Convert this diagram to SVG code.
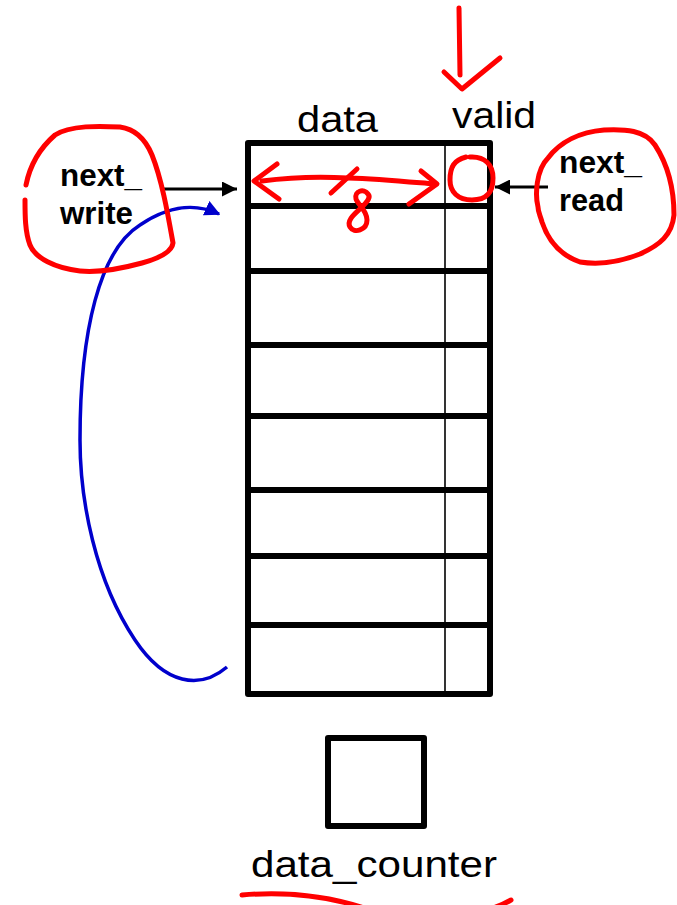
<svg xmlns="http://www.w3.org/2000/svg" width="677" height="905" viewBox="0 0 677 905">
  <style>
    .label { font-family: "Liberation Sans", Arial, sans-serif; font-size: 37px; fill: #000; }
    .ptr { font-family: "Liberation Sans", Arial, sans-serif; font-size: 31px; font-weight: bold; fill: #000; }
    .box { fill: #fff; stroke: #000; stroke-width: 6; stroke-linejoin: round; }
    .row { stroke: #000; stroke-width: 6; }
    .ink { fill: none; stroke: #f00; stroke-width: 5; stroke-linecap: round; stroke-linejoin: round; }
    .wire { fill: none; stroke: #000; stroke-width: 3; }
    .loop { fill: none; stroke: #0000cc; stroke-width: 3.5; }
  </style>
  <defs>
    <marker id="head" viewBox="0 0 10 10" refX="10" refY="5" markerWidth="5" markerHeight="5" markerUnits="strokeWidth" orient="auto">
      <path d="M0 0 L10 5 L0 10 Z" fill="#000"/>
    </marker>
    <marker id="blueHead" viewBox="0 0 10 10" refX="9" refY="5" markerWidth="4.5" markerHeight="4.5" markerUnits="strokeWidth" orient="auto">
      <path d="M0 0 L10 5 L0 10 Z" fill="#0000cc"/>
    </marker>
  </defs>
  <rect width="677" height="905" fill="#fff"/>

  <!-- FIFO memory: 8 entries, data + valid columns -->
  <g id="fifo">
    <rect class="box" x="248" y="143" width="242" height="551"/>
    <line class="row" x1="248" y1="206" x2="490" y2="206"/>
    <line class="row" x1="248" y1="271" x2="490" y2="271"/>
    <line class="row" x1="248" y1="345" x2="490" y2="345"/>
    <line class="row" x1="248" y1="416" x2="490" y2="416"/>
    <line class="row" x1="248" y1="490" x2="490" y2="490"/>
    <line class="row" x1="248" y1="556" x2="490" y2="556"/>
    <line class="row" x1="248" y1="625" x2="490" y2="625"/>
    <line x1="445" y1="143" x2="445" y2="694" stroke="#000" stroke-width="1.6"/>
    <text class="label" x="297" y="132" textLength="81" lengthAdjust="spacingAndGlyphs">data</text>
    <text class="label" x="452" y="128" textLength="84" lengthAdjust="spacingAndGlyphs">valid</text>
  </g>

  <g id="next_write">
    <text class="ptr" x="60" y="186" textLength="82" lengthAdjust="spacingAndGlyphs">next_</text>
    <text class="ptr" x="60" y="224" textLength="73" lengthAdjust="spacingAndGlyphs">write</text>
  </g>

  <g id="next_read">
    <text class="ptr" x="559" y="173" textLength="83" lengthAdjust="spacingAndGlyphs">next_</text>
    <text class="ptr" x="559" y="211" textLength="65" lengthAdjust="spacingAndGlyphs">read</text>
  </g>

  <g id="data_counter">
    <rect class="box" x="328" y="738" width="96" height="88"/>
    <text class="label" x="251" y="877" textLength="246" lengthAdjust="spacingAndGlyphs">data_counter</text>
  </g>

  <g id="connectors">
    <line class="wire" x1="164" y1="189" x2="237" y2="189" marker-end="url(#head)"/>
    <line class="wire" x1="548" y1="187" x2="495" y2="187" marker-end="url(#head)"/>
    <path class="loop" d="M227 667 C200 690 165 685 135 640 C95 580 80 500 80 440 C80 330 100 250 140 225 C170 205 195 203 219 214" marker-end="url(#blueHead)"/>
  </g>

  <!-- hand-drawn red annotations -->
  <g id="annotations">
    <path class="ink" d="M459 8 L460 75"/>
    <path class="ink" d="M444 72 L462 89 L500 58"/>
    <path class="ink" d="M26 185 C30 165 40 148 55 135 C70 125 100 126 120 127 C135 129 145 138 152 155 C162 180 168 215 173 243 C172 252 160 258 142 263 C120 269 100 273 80 271 C55 268 35 258 30 245 C25 232 25 215 25 200"/>
    <path class="ink" d="M538 207 C535 195 536 170 548 158 C560 142 580 132 604 130 C625 129 645 130 655 145 C668 165 674 190 674 215 C672 235 660 245 640 254 C620 262 600 265 580 262 C560 255 548 240 542 222 C540 215 538 212 538 207"/>
    <path class="ink" d="M470 157 C485 156 493 165 493 178 C493 192 487 200 472 200 C458 200 450 192 450 180 C450 167 454 160 466 157"/>
    <path class="ink" d="M262 181 C300 176 330 177 348 178 C380 179 410 182 434 184"/>
    <path class="ink" d="M277 164 L254 181 L279 199"/>
    <path class="ink" d="M421 171 L437 184 L409 204"/>
    <path class="ink" d="M331 193 L357 169"/>
    <path class="ink" d="M368 194 C364 188 354 191 356 199 C358 205 367 210 367 220 C367 230 354 234 350 227 C346 220 356 213 362 207 C368 201 371 197 368 194"/>
    <path class="ink" d="M242 895 C290 891 330 896 370 910 C420 922 480 918 511 900"/>
  </g>
</svg>
